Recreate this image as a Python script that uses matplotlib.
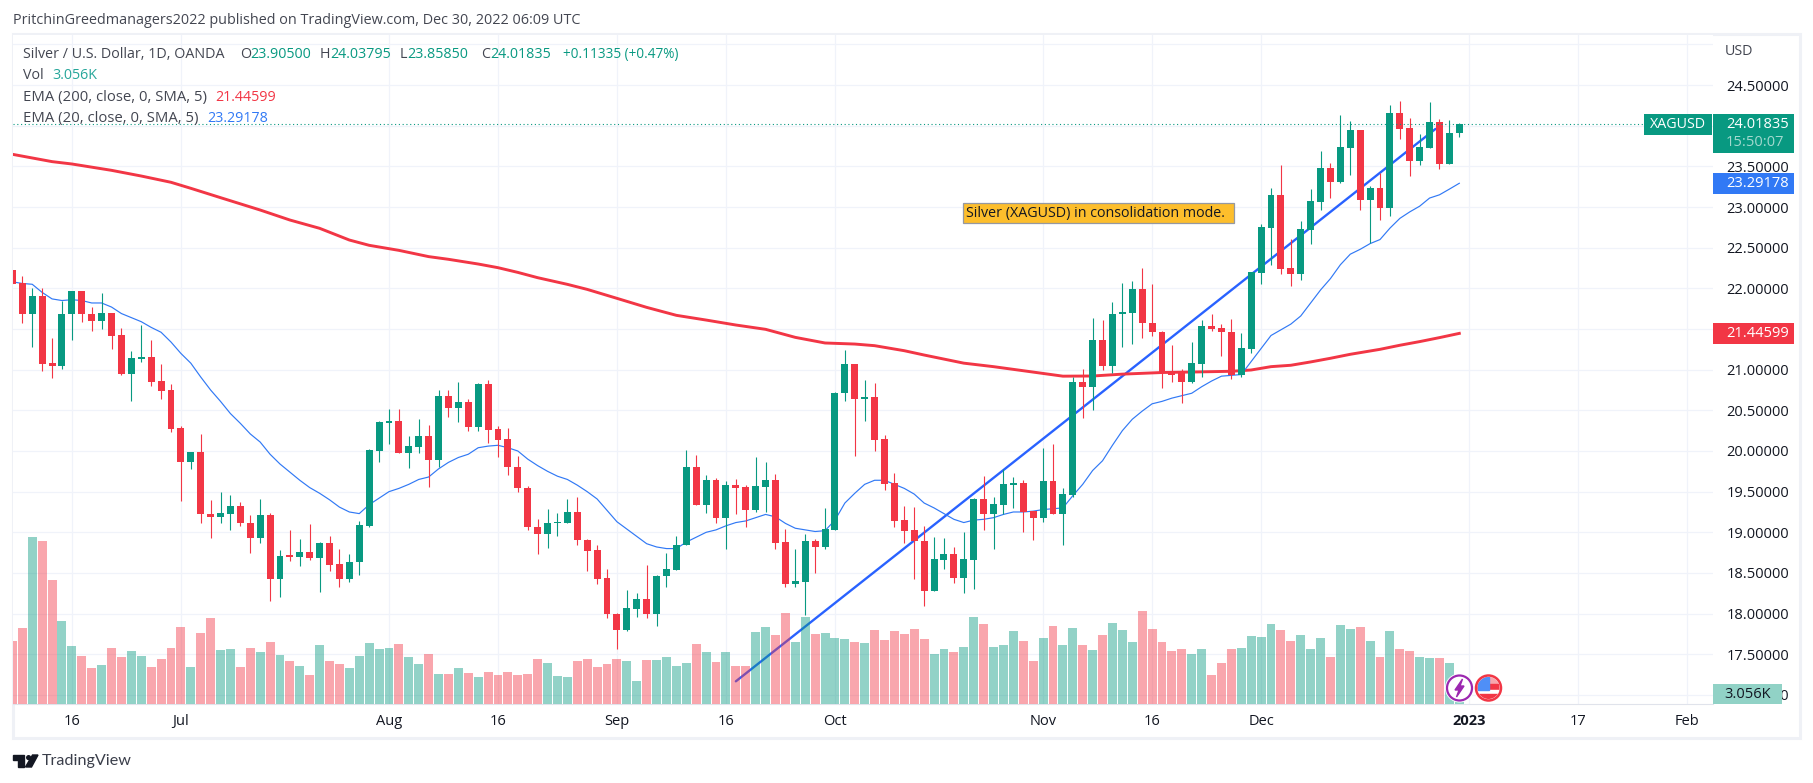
import numpy as np
import matplotlib
matplotlib.use("Agg")
import matplotlib.pyplot as plt
from matplotlib.patches import Rectangle, Circle, Polygon

# --- data (one bar per trading day)
opens = [22.22,22.06,21.69,21.91,21.08,21.04,21.68,21.97,21.68,21.60,
         21.70,21.43,20.95,21.13,21.16,20.86,20.75,20.28,19.86,19.99,
         19.23,19.19,19.23,19.32,19.11,18.93,19.21,18.42,18.71,18.70,
         18.76,18.68,18.87,18.61,18.43,18.63,19.08,20.00,20.35,20.37,
         19.98,20.05,20.18,19.89,20.68,20.53,20.60,20.30,20.82,20.27,
         20.15,19.80,19.55,19.07,18.98,19.11,19.12,19.25,18.91,18.78,
         18.44,18.00,17.80,18.06,18.18,18.00,18.46,18.54,18.84,19.80,
         19.34,19.64,19.17,19.58,19.56,19.28,19.56,19.64,18.88,18.36,
         18.39,18.89,18.82,19.03,20.71,21.07,20.64,20.66,20.15,19.61,
         19.15,19.03,18.89,18.28,18.66,18.73,18.44,18.66,19.41,19.22,
         19.34,19.58,19.61,19.26,19.17,19.63,19.22,19.46,20.85,20.79,
         21.36,21.05,21.68,21.70,21.99,21.57,21.46,20.96,20.96,20.85,
         21.07,21.54,21.51,21.46,20.94,21.25,22.19,22.74,23.15,22.25,
         22.18,22.72,23.06,23.48,23.31,23.73,23.95,23.09,23.23,22.99,
         24.16,23.97,23.57,23.73,24.05,23.53,23.905]
highs = [22.23,22.15,22.00,22.00,21.39,21.85,21.97,21.97,21.77,21.94,
         21.70,21.51,21.23,21.55,21.36,21.07,20.82,20.31,19.99,20.21,
         19.40,19.50,19.46,19.37,19.21,19.41,19.24,18.78,19.03,18.92,
         19.10,18.88,18.95,18.79,18.73,19.14,20.02,20.37,20.52,20.52,
         20.18,20.39,20.32,20.75,20.75,20.85,20.64,20.84,20.87,20.31,
         20.28,19.94,19.57,19.16,19.29,19.24,19.41,19.44,18.92,18.84,
         18.55,18.01,18.29,18.25,18.60,18.48,18.75,18.96,20.01,19.95,
         19.71,19.67,19.63,19.66,19.58,19.93,19.87,19.72,19.04,18.80,
         18.98,18.92,19.30,20.73,21.24,21.07,20.87,20.84,20.20,19.73,
         19.32,19.31,19.08,18.94,18.93,18.82,19.00,19.42,19.69,19.43,
         19.78,19.68,19.64,19.26,20.04,20.09,19.55,20.91,21.01,21.64,
         21.61,21.83,22.07,22.09,22.25,22.05,21.48,21.30,21.01,21.34,
         21.61,21.68,21.56,21.62,21.45,22.20,22.79,23.23,23.52,22.61,
         22.83,23.22,23.69,23.54,24.13,24.06,23.95,23.26,23.42,24.25,
         24.30,24.09,23.90,24.29,24.08,24.07,24.03795]
lows = [22.05,21.57,21.28,20.98,20.90,21.01,21.36,21.59,21.48,21.50,
        21.25,20.93,20.62,21.10,20.80,20.64,20.23,19.39,19.78,19.11,
        18.93,19.12,19.03,19.08,18.75,18.87,18.15,18.20,18.65,18.59,
        18.66,18.26,18.52,18.33,18.39,18.47,19.07,19.86,20.09,19.97,
        19.79,19.98,19.56,19.80,20.42,20.36,20.25,20.25,20.10,19.92,
        19.71,19.49,19.03,18.73,18.81,18.96,19.12,18.84,18.53,18.36,
        17.95,17.57,17.79,17.96,17.95,17.85,18.33,18.54,18.84,19.34,
        19.24,19.12,18.79,19.23,19.07,19.25,19.25,18.79,18.33,18.33,
        17.98,18.50,18.79,19.03,20.62,19.94,20.37,20.00,19.52,19.07,
        18.87,18.42,18.10,18.28,18.55,18.38,18.25,18.30,19.03,18.80,
        19.22,19.30,19.01,18.91,19.13,19.22,18.85,19.43,20.40,20.51,
        21.00,20.96,21.28,21.31,21.39,21.41,20.77,20.85,20.59,20.84,
        20.91,21.47,21.17,20.88,20.91,21.20,22.05,22.29,22.18,22.03,
        22.10,22.55,22.96,23.11,23.30,23.39,22.96,22.56,22.84,22.89,
        23.84,23.38,23.52,23.73,23.47,23.53,23.8585]
closes = [22.05,21.69,21.91,21.07,21.04,21.68,21.97,21.68,21.60,21.70,
          21.42,20.95,21.14,21.16,20.85,20.74,20.27,19.86,19.99,19.22,
          19.19,19.24,19.32,19.11,18.93,19.21,18.42,18.71,18.70,18.76,
          18.68,18.87,18.60,18.43,18.64,19.09,20.01,20.36,20.37,19.98,
          20.06,20.18,19.89,20.68,20.53,20.60,20.30,20.82,20.26,20.14,
          19.80,19.54,19.06,18.98,19.12,19.13,19.25,18.90,18.77,18.43,
          17.99,17.80,18.07,18.18,18.00,18.46,18.55,18.84,19.80,19.34,
          19.64,19.17,19.58,19.55,19.28,19.57,19.64,18.87,18.36,18.40,
          18.89,18.82,19.04,20.71,21.07,20.64,20.66,20.14,19.60,19.14,
          19.02,18.89,18.28,18.67,18.73,18.44,18.67,19.41,19.22,19.35,
          19.59,19.61,19.25,19.17,19.63,19.22,19.47,20.85,20.79,21.36,
          21.05,21.68,21.71,21.99,21.57,21.46,20.96,20.94,20.85,21.08,
          21.54,21.50,21.46,20.94,21.27,22.20,22.76,23.15,22.24,22.18,
          22.73,23.07,23.48,23.31,23.74,23.95,23.09,23.23,22.99,24.16,
          23.96,23.57,23.74,24.05,23.53,23.91,24.01835]
volumes = [18.9,22.8,50.1,48.9,37.2,24.9,17.4,14.4,10.8,11.7,16.8,14.1,15.9,14.4,11.1,13.5,16.8,23.1,11.1,21.3,
           25.8,16.2,16.5,11.1,16.8,15.6,18.6,14.7,12.9,11.4,8.7,17.7,12.9,12.0,10.8,14.4,18.3,16.5,16.8,18.0,
           14.1,12.0,15.0,9.0,9.0,10.8,9.3,8.1,9.6,8.7,9.6,8.7,9.0,13.5,12.3,8.4,8.1,12.9,13.5,11.1,
           12.0,13.5,12.9,6.9,13.2,13.2,14.1,11.4,12.3,18.0,15.6,12.6,15.6,11.4,11.4,21.6,23.1,20.7,27.3,18.6,
           26.1,21.0,21.3,19.8,19.5,18.6,18.3,22.2,19.2,21.9,21.0,22.5,19.5,15.0,16.5,15.6,17.1,26.1,24.0,17.1,
           17.7,21.9,18.9,12.9,19.8,23.4,17.7,22.8,17.7,16.2,20.7,24.3,22.2,18.6,27.9,22.5,18.6,15.9,16.5,15.0,
           16.5,8.7,12.3,16.5,16.8,20.4,20.1,24.0,22.2,18.9,20.7,16.5,19.8,14.1,23.7,22.5,23.1,18.9,14.1,21.9,
           16.5,15.9,14.1,13.8,13.8,12.3,3.056]
ema20 = [22.08,22.06,22.05,21.95,21.87,21.85,21.86,21.85,21.82,21.82,
         21.77,21.69,21.64,21.59,21.52,21.46,21.34,21.20,21.08,20.91,
         20.75,20.61,20.46,20.34,20.21,20.11,19.96,19.84,19.74,19.64,
         19.55,19.48,19.40,19.31,19.25,19.23,19.34,19.42,19.50,19.54,
         19.59,19.65,19.68,19.78,19.86,19.92,19.96,20.04,20.06,20.07,
         20.04,20.00,19.90,19.82,19.75,19.69,19.65,19.58,19.50,19.41,
         19.27,19.13,19.04,18.95,18.86,18.82,18.80,18.80,18.88,18.94,
         19.00,19.03,19.08,19.12,19.14,19.18,19.22,19.19,19.11,19.05,
         19.03,19.01,19.02,19.15,19.36,19.48,19.59,19.64,19.64,19.59,
         19.54,19.47,19.36,19.30,19.23,19.16,19.12,19.15,19.16,19.18,
         19.22,19.25,19.25,19.26,19.28,19.29,19.30,19.45,19.59,19.76,
         19.88,20.07,20.25,20.39,20.49,20.58,20.61,20.65,20.68,20.71,
         20.79,20.86,20.92,20.93,20.94,21.10,21.26,21.42,21.49,21.56,
         21.66,21.82,21.98,22.12,22.29,22.42,22.48,22.55,22.60,22.74,
         22.86,22.94,23.01,23.11,23.15,23.22,23.29178]
ema200_bar = [0,4,6,10,13,16,18,21,25,28,31,34,36,39,42,44,47,49,51,53,56,58,61,64,67,70,73,76,79,82,85,87,
              90,92,96,99,102,106,109,112,116,119,123,125,127,129,131,133,135,138,140,142,144,146]
ema200 = [23.648,23.558,23.529,23.451,23.381,23.304,23.230,23.115,22.963,22.840,22.738,22.594,22.529,22.467,22.390,22.357,
          22.299,22.254,22.196,22.131,22.049,21.987,21.877,21.766,21.668,21.610,21.549,21.496,21.397,21.328,21.315,21.295,
          21.233,21.180,21.080,21.037,20.987,20.920,20.922,20.945,20.965,20.971,20.980,20.996,21.037,21.054,21.095,21.140,
          21.189,21.250,21.300,21.345,21.394,21.44599]
trend_bar = [73, 143.6]
trend_price = [17.168, 23.96]
tick_bars = [6, 17, 38, 49, 61, 72, 83, 104, 115, 126, 147, 158, 169]
tick_names = ["16", "Jul", "Aug", "16", "Sep", "16", "Oct", "Nov", "16", "Dec", "2023", "17", "Feb"]
price_ticks = [17.0,17.5,18.0,18.5,19.0,19.5,20.0,20.5,21.0,21.5,22.0,22.5,23.0,23.5,24.0,24.5,25.0]

UP = "#089981"
DOWN = "#f23645"
BLUE = "#3179f5"
TXT = "#131722"
GREY = "#434651"
GRID = "#f0f3fa"
FS = 10.3
W, H = 1813, 783

plt.rcParams["font.family"] = ["Open Sans", "DejaVu Sans"]


def fx(x):
    return x / W


def fy(y):
    return 1 - y / H


def box(x0, y0, x1, y1, color, edge="none", lw=0, z=4):
    fig.add_artist(Rectangle((fx(x0), fy(y1)), (x1 - x0) / W, (y1 - y0) / H, transform=fig.transFigure,
                             facecolor=color, edgecolor=edge, linewidth=lw, zorder=z))


def label(x, y, s, color=TXT, size=FS, z=6):
    # 1.5 px: va=center counts the descender
    fig.text(fx(x), fy(y + 1.5), s, color=color, fontsize=size, ha="left", va="center", zorder=z)


fig = plt.figure(figsize=(W / 100, H / 100), dpi=100, facecolor="white")
pos = [fx(13), fy(704), (1713 - 13) / W, (704 - 35) / H]
xlim = (0.06, 171.6)
ylim = (16.889, 25.115)

# background axes: grid, tick labels, trend line (volume bars tint it)
ax_bg = fig.add_axes(pos, zorder=1)
ax_bg.set_xlim(xlim)
ax_bg.set_ylim(ylim)
ax_bg.set_xticks(tick_bars)
ax_bg.set_xticklabels(tick_names)
ax_bg.set_yticks(price_ticks)
ax_bg.set_yticklabels(["%.5f" % p if p < 25 else "" for p in price_ticks])
ax_bg.yaxis.tick_right()
ax_bg.tick_params(axis="both", length=0, labelsize=10.5, labelcolor=TXT)
ax_bg.tick_params(axis="y", pad=9.5)
ax_bg.tick_params(axis="x", pad=7)
ax_bg.get_xticklabels()[10].set_fontweight("bold")
ax_bg.grid(True, color=GRID, linewidth=0.9)
ax_bg.set_axisbelow(True)
for side in ax_bg.spines:
    ax_bg.spines[side].set_visible(False)
ax_bg.spines["bottom"].set_visible(True)
ax_bg.spines["bottom"].set_color("#e0e3eb")
ax_bg.spines["bottom"].set_linewidth(0.8)
ax_bg.plot(trend_bar, trend_price, color="#2962ff", linewidth=1.7, solid_capstyle="round", zorder=2)

# volume pane, sits at the bottom of the price pane
ax_vol = fig.add_axes(pos, zorder=2, sharex=ax_bg)
ax_vol.patch.set_visible(False)
ax_vol.set_ylim(0, 201)
ax_vol.axis("off")
bars = np.arange(len(closes))
up = np.array(closes) >= np.array(opens)
vol_colors = [UP if u else DOWN for u in up]
ax_vol.bar(bars, volumes, width=0.9, color=vol_colors, alpha=0.44, linewidth=0)

# price pane
ax = fig.add_axes(pos, zorder=3, sharex=ax_bg, sharey=ax_bg)
ax.patch.set_visible(False)
ax.axis("off")
ax.plot(ema200_bar, ema200, color=DOWN, linewidth=2.1, zorder=2.5)
ax.plot(bars, ema20, color=BLUE, linewidth=0.85, zorder=2.5)
ax.hlines(closes[-1], xlim[0], 165.2, color=UP, linewidth=0.8, linestyle=(0, (1, 2.4)), zorder=5)

for i in bars:
    col = vol_colors[i]
    ax.vlines(i, lows[i], highs[i], color=col, linewidth=0.8, zorder=3)
    b0 = min(opens[i], closes[i])
    bh = max(abs(closes[i] - opens[i]), 0.02)
    ax.bar(i, bh, bottom=b0, width=0.7, color=col, linewidth=0, zorder=4)

# outer frame
fig.add_artist(Rectangle((fx(13), fy(738)), (1800 - 13) / W, (738 - 34) / H, transform=fig.transFigure,
                         facecolor="none", edgecolor="#eff1f6", linewidth=2.2, zorder=0.5))

# header, legend
label(13, 18.5, "PritchinGreedmanagers2022 published on TradingView.com, Dec 30, 2022 06:09 UTC", color=GREY, size=10.35)
label(23, 53, "Silver / U.S. Dollar, 1D, OANDA", color=GREY)
for x, off, name, val in [(240, 10, "O", "23.90500"), (320, 10, "H", "24.03795"),
                          (400, 7.5, "L", "23.85850"), (481, 9, "C", "24.01835")]:
    label(x, 53, name, color=GREY)
    label(x + off, 53, val, color=UP)
label(563, 53, "+0.11335 (+0.47%)", color=UP, size=9.85)
label(23, 74, "Vol", color=GREY)
label(52, 74, "3.056K", color="#26a69a")
label(23, 96, "EMA (200, close, 0, SMA, 5)", color=GREY, size=10.7)
label(215, 96, "21.44599", color=DOWN)
label(23, 117, "EMA (20, close, 0, SMA, 5)", color=GREY, size=10.7)
label(207, 117, "23.29178", color=BLUE)

# price scale labels
label(1725, 50, "USD", color=GREY)
box(1713, 114, 1794, 153, UP)
label(1726, 123.5, "24.01835", color="white", size=10.5)
label(1726, 141, "15:50:07", color="#a3d9cf", size=10.5)
box(1644, 114, 1712, 135, UP)
label(1650, 123.5, "XAGUSD", color="white")
box(1713, 173, 1794, 194, BLUE)
label(1726, 182, "23.29178", color="white", size=10.5)
box(1713, 323, 1794, 344, DOWN)
label(1726, 332, "21.44599", color="white", size=10.5)
box(1713, 684, 1782, 703.5, "#91d2c6")
label(1724, 692.5, "3.056K", color=TXT, size=10.5)

# note on the chart
box(962.5, 203, 1233.5, 223, "#fdbe2c", edge="#9598a1", lw=0.9)
label(966, 211.5, "Silver (XAGUSD) in consolidation mode.", color=TXT, size=10.3)

px_tr = matplotlib.transforms.Affine2D().scale(1 / W, 1 / H) + fig.transFigure


def circle_px(x, y, r, **kw):
    c = Circle((x, H - y), r, transform=px_tr, **kw)
    fig.add_artist(c)
    return c


# event icons at the last bar
circle_px(1459.5, 688, 14.5, facecolor="white", edgecolor="none", zorder=7)
circle_px(1459.5, 688, 12.5, facecolor="white", edgecolor="#9c27b0", linewidth=1.6, zorder=7.1)
fig.add_artist(Polygon([(1462.5, H - 679), (1455, H - 690), (1459, H - 690), (1456.5, H - 697),
                        (1464, H - 686), (1460, H - 686)], transform=px_tr, color="#9c27b0", zorder=7.2))
circle_px(1488.5, 688, 14.5, facecolor="white", edgecolor="none", zorder=7)
clip = circle_px(1488.5, 688, 11, facecolor="white", edgecolor="none", zorder=7.1)
for y0, y1, col in [(677, 684, "#f7a6ad"), (684, 690, "#f23645"), (690, 694, "white"), (694, 700, "#f23645")]:
    r = Rectangle((1477, H - y1), 24, y1 - y0, transform=px_tr, color=col, zorder=7.2)
    fig.add_artist(r)
    r.set_clip_path(clip)
r = Rectangle((1478, H - 690), 11, 13, transform=px_tr, color="#4f8ff7", zorder=7.3)
fig.add_artist(r)
r.set_clip_path(clip)
circle_px(1488.5, 688, 12.5, facecolor="none", edgecolor="#f23645", linewidth=1.8, zorder=7.4)

# TradingView logo
LOGO = "#131722"
fig.add_artist(Polygon([(13, H - 755), (24, H - 755), (24, H - 767), (18, H - 767), (18, H - 760), (13, H - 760)],
                       transform=px_tr, color=LOGO, zorder=6))
circle_px(28.6, 757.6, 2.6, facecolor=LOGO, edgecolor="none", zorder=6)
fig.add_artist(Polygon([(32.5, H - 755), (38, H - 755), (31.5, H - 767), (25.5, H - 767)],
                       transform=px_tr, color=LOGO, zorder=6))
fig.text(fx(42), fy(761.5), "TradingView", color="#3a3e4a", fontsize=11.6, family="Lato", va="center")

fig.savefig("out.png", dpi=100)
